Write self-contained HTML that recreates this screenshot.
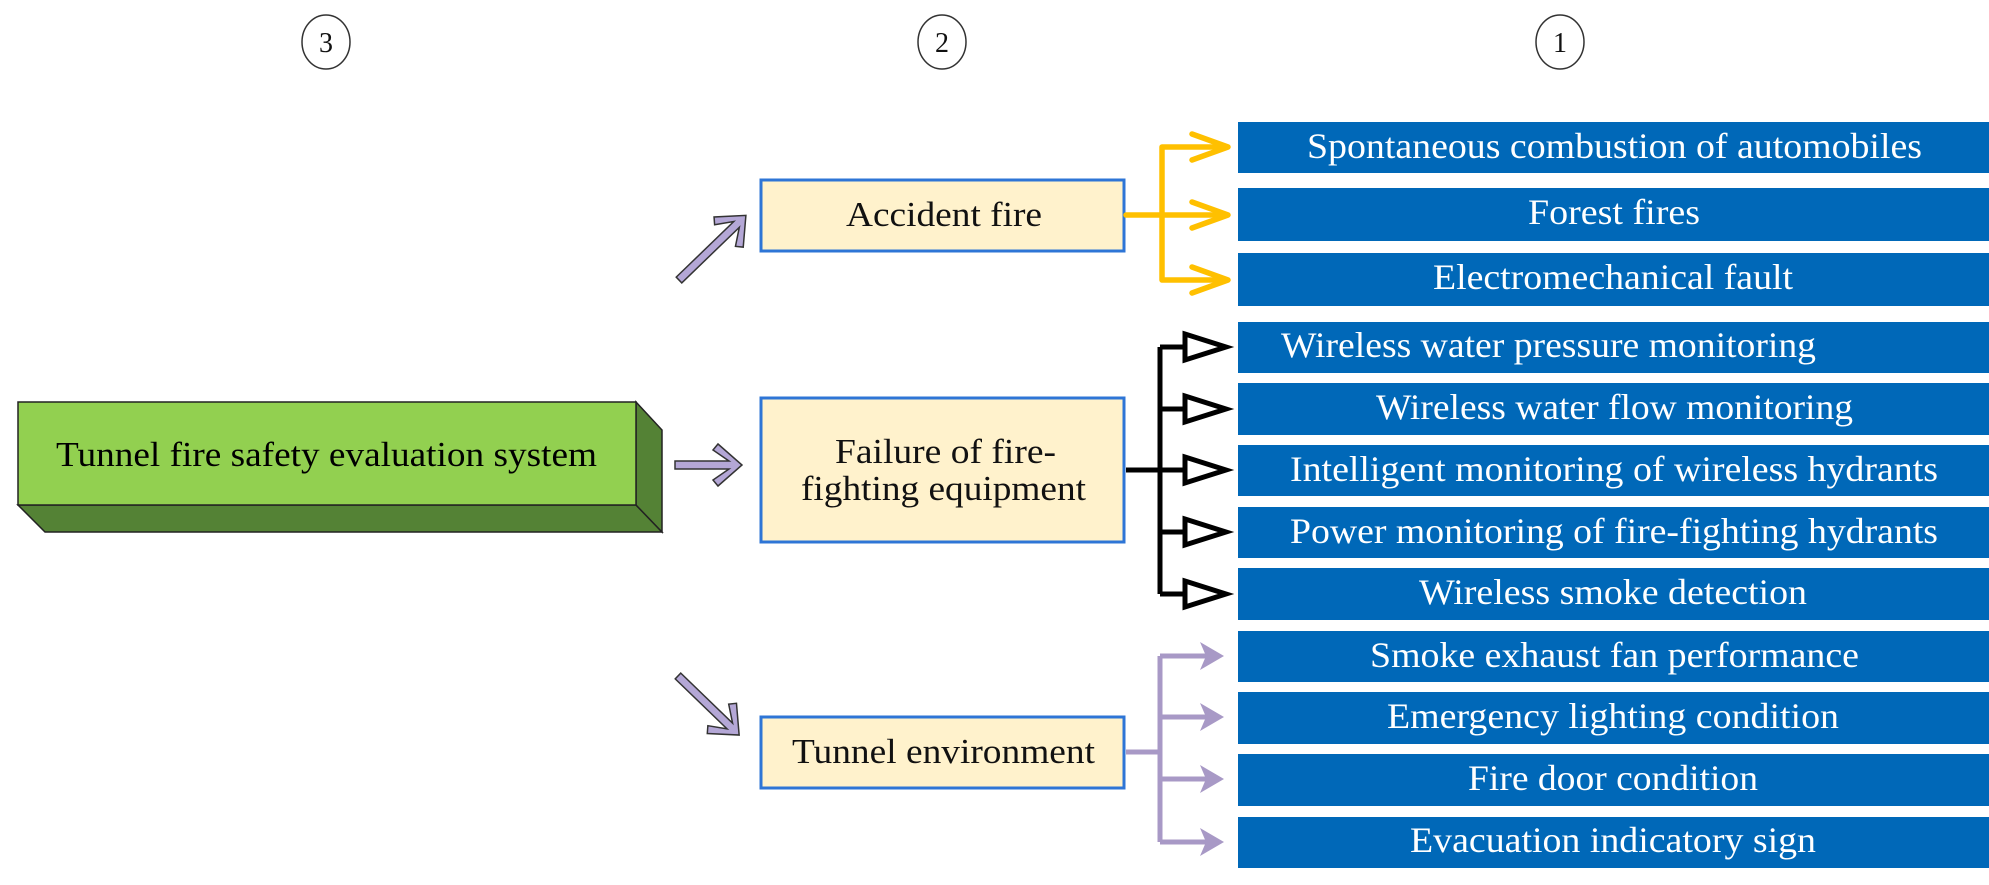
<!DOCTYPE html>
<html><head><meta charset="utf-8"><style>html,body{margin:0;padding:0;background:#fff}svg{display:block}</style></head>
<body>
<svg width="1989" height="885" viewBox="0 0 1989 885" xmlns="http://www.w3.org/2000/svg" font-family="'Liberation Serif', serif">
<!-- circles -->
<g fill="none" stroke="#333" stroke-width="1.5">
<ellipse cx="326" cy="42" rx="24" ry="27"/>
<ellipse cx="942" cy="42" rx="24" ry="27"/>
<ellipse cx="1560" cy="42" rx="24" ry="27"/>
</g>
<g font-size="28" fill="#111" text-anchor="middle">
<text x="326" y="52">3</text><text x="942" y="52">2</text><text x="1560" y="52">1</text>
</g>
<!-- green 3D box -->
<polygon points="18,505 636,505 662,532 45,532" fill="#548235" stroke="#222" stroke-width="1.5"/>
<polygon points="636,402 662,430 662,532 636,505" fill="#548235" stroke="#222" stroke-width="1.5"/>
<rect x="18" y="402" width="618" height="103" fill="#92d050" stroke="#222" stroke-width="1.5"/>
<text x="56" y="466" font-size="35" textLength="541" lengthAdjust="spacingAndGlyphs">Tunnel fire safety evaluation system</text>
<!-- level 2 boxes -->
<g fill="#fff2cc" stroke="#2e75d6" stroke-width="3">
<rect x="761" y="180" width="363" height="71"/>
<rect x="761" y="398" width="363" height="144"/>
<rect x="761" y="717" width="363" height="71"/>
</g>
<g font-size="35" fill="#111">
<text x="846" y="226" textLength="196" lengthAdjust="spacingAndGlyphs">Accident fire</text>
<text x="835" y="463" textLength="221" lengthAdjust="spacingAndGlyphs">Failure of fire-</text>
<text x="801" y="500" textLength="285" lengthAdjust="spacingAndGlyphs">fighting equipment</text>
<text x="792" y="763" textLength="303" lengthAdjust="spacingAndGlyphs">Tunnel environment</text>
</g>
<!-- purple block arrows (chevron heads) -->
<g fill="#b4a7d6" stroke="#333" stroke-width="1.5" stroke-linejoin="miter">
<polygon points="0,-4 54,-4 38,-15 43,-21 67,0 43,21 38,15 54,4 0,4" transform="translate(675,465)"/>
<polygon points="0,-4 80,-4 64,-15 69,-21 93,0 69,21 64,15 80,4 0,4" transform="translate(679,280) rotate(-44)"/>
<polygon points="0,-4 72,-4 56,-15 61,-21 85,0 61,21 56,15 72,4 0,4" transform="translate(678,676) rotate(44)"/>
</g>
<!-- blue boxes -->
<g fill="#0068b8">
<rect x="1238" y="122" width="751" height="51"/>
<rect x="1238" y="188" width="751" height="53"/>
<rect x="1238" y="253" width="751" height="53"/>
<rect x="1238" y="322" width="751" height="51"/>
<rect x="1238" y="383" width="751" height="52"/>
<rect x="1238" y="445" width="751" height="51"/>
<rect x="1238" y="507" width="751" height="51"/>
<rect x="1238" y="568" width="751" height="52"/>
<rect x="1238" y="631" width="751" height="51"/>
<rect x="1238" y="692" width="751" height="52"/>
<rect x="1238" y="754" width="751" height="52"/>
<rect x="1238" y="817" width="751" height="51"/>
</g>
<g font-size="36" fill="#fff">
<text x="1307" y="158" textLength="615" lengthAdjust="spacingAndGlyphs">Spontaneous combustion of automobiles</text>
<text x="1528" y="224" textLength="172" lengthAdjust="spacingAndGlyphs">Forest fires</text>
<text x="1433" y="289" textLength="360" lengthAdjust="spacingAndGlyphs">Electromechanical fault</text>
<text x="1281" y="357" textLength="535" lengthAdjust="spacingAndGlyphs">Wireless water pressure monitoring</text>
<text x="1376" y="419" textLength="477" lengthAdjust="spacingAndGlyphs">Wireless water flow monitoring</text>
<text x="1290" y="481" textLength="648" lengthAdjust="spacingAndGlyphs">Intelligent monitoring of wireless hydrants</text>
<text x="1290" y="543" textLength="648" lengthAdjust="spacingAndGlyphs">Power monitoring of fire-fighting hydrants</text>
<text x="1419" y="604" textLength="388" lengthAdjust="spacingAndGlyphs">Wireless smoke detection</text>
<text x="1370" y="667" textLength="489" lengthAdjust="spacingAndGlyphs">Smoke exhaust fan performance</text>
<text x="1387" y="728" textLength="452" lengthAdjust="spacingAndGlyphs">Emergency lighting condition</text>
<text x="1468" y="790" textLength="290" lengthAdjust="spacingAndGlyphs">Fire door condition</text>
<text x="1410" y="852" textLength="406" lengthAdjust="spacingAndGlyphs">Evacuation indicatory sign</text>
</g>
<!-- yellow connectors -->
<g stroke="#ffc000" stroke-width="5.5" fill="none" stroke-linecap="round" stroke-linejoin="round">
<path d="M1126,215 H1162 M1162,147 V280 M1162,147 H1226 M1162,215 H1226 M1162,280 H1226"/>
<path d="M1192,134 L1228,147 L1192,160 M1192,202 L1228,215 L1192,228 M1192,267 L1228,280 L1192,293"/>
</g>
<!-- black connectors -->
<g stroke="#000" stroke-width="5" fill="none" stroke-linejoin="miter">
<path d="M1126,470 H1160 M1160,347 V594 M1160,347 H1185 M1160,409 H1185 M1160,470 H1185 M1160,532 H1185 M1160,594 H1185"/>
<g fill="#fff">
<polygon points="1185,334 1226,347 1185,360"/>
<polygon points="1185,396 1226,409 1185,422"/>
<polygon points="1185,457 1226,470 1185,483"/>
<polygon points="1185,519 1226,532 1185,545"/>
<polygon points="1185,581 1226,594 1185,607"/>
</g>
</g>
<!-- purple connectors -->
<g stroke="#a899c6" stroke-width="5" fill="none">
<path d="M1126,752 H1160 M1160,656 V842 M1160,656 H1215 M1160,717 H1215 M1160,779 H1215 M1160,842 H1215"/>
</g>
<g fill="#a899c6">
<polygon points="1200,642 1224,656 1200,670 1206,656"/>
<polygon points="1200,703 1224,717 1200,731 1206,717"/>
<polygon points="1200,765 1224,779 1200,793 1206,779"/>
<polygon points="1200,828 1224,842 1200,856 1206,842"/>
</g>
</svg>
</body></html>
